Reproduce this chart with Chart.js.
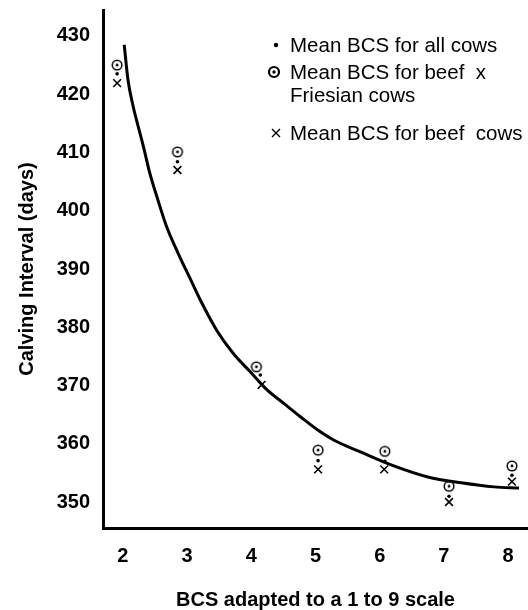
<!DOCTYPE html>
<html>
<head>
<meta charset="utf-8">
<script src="https://cdn.jsdelivr.net/npm/chart.js@4.4.1/dist/chart.umd.min.js"></script>
<style>
  body { margin: 0; background: #fff; }
  #wrap { position: relative; width: 528px; height: 610px; }
  .legRow { position: absolute; left: 266px; font: 20.5px "Liberation Sans", Arial, sans-serif; color: #000; line-height: 23px; white-space: pre; }
  .legRow svg { position: absolute; left: 0; top: 4px; }
  .legRow span { position: absolute; left: 24px; top: 0; }
</style>
</head>
<body>
<div id="wrap">
  <canvas id="chart" width="528" height="610"></canvas>
  <div id="legend"></div>
</div>
<script>
// tick values
const xTickValues = [2, 3, 4, 5, 6, 7, 8]
const yTickValues = [350, 360, 370, 380, 390, 400, 410, 420, 430]

// Mean BCS for all cows (dot)
const allCowsX = [1.91, 2.85, 4.14, 5.04, 6.08, 7.08, 8.06]
const allCowsY = [423.5, 408.4, 371.8, 357.1, 357.0, 351.0, 354.6]
// Mean BCS for beef x Friesian cows (circle with dot)
const beefFriesianX = [1.91, 2.85, 4.08, 5.04, 6.08, 7.08, 8.06]
const beefFriesianY = [425.0, 410.1, 373.2, 358.9, 358.7, 352.7, 356.2]
// Mean BCS for beef cows (cross)
const beefX = [1.91, 2.85, 4.16, 5.04, 6.07, 7.08, 8.06]
const beefY = [421.9, 407.0, 370.1, 355.6, 355.6, 350.0, 353.5]

// fitted curve
const curveX = [2.02, 2.08, 2.16, 2.24, 2.32, 2.42, 2.53, 2.68, 2.86, 3.05, 3.20, 3.46, 3.72, 3.98, 4.25, 4.51, 4.77, 5.03, 5.29, 5.70, 6.22, 6.75, 7.27, 7.78, 8.17]
const curveY = [428.5, 422.4, 417.9, 414.4, 411.0, 406.4, 402.4, 397.3, 392.7, 388.3, 384.8, 379.5, 375.5, 372.4, 369.2, 366.9, 364.6, 362.4, 360.6, 358.6, 356.2, 354.3, 353.3, 352.6, 352.4]

const legendLabels = ['Mean BCS for all cows', 'Mean BCS for beef  x\nFriesian cows', 'Mean BCS for beef  cows']

const toPoints = (xs, ys) => xs.map((x, i) => ({ x: x, y: ys[i] }))

// point style "circle with a dot" drawn on a small canvas
function dotCircle(size, r, lw, dotR) {
    const c = document.createElement('canvas')
    c.width = size; c.height = size
    const g = c.getContext('2d')
    g.strokeStyle = '#000'; g.fillStyle = '#000'; g.lineWidth = lw
    g.beginPath(); g.arc(size / 2, size / 2, r, 0, Math.PI * 2); g.stroke()
    g.beginPath(); g.arc(size / 2, size / 2, dotR, 0, Math.PI * 2); g.fill()
    return c
}

const font = { family: '"Liberation Sans", Arial, sans-serif', size: 20, weight: 'bold' }

const data = {
    datasets: [{
        label: 'Fitted curve',
        data: toPoints(curveX, curveY),
        showLine: true,
        borderColor: '#000',
        borderWidth: 3,
        pointRadius: 0,
        cubicInterpolationMode: 'monotone',
        order: 3
    }, {
        label: legendLabels[0],
        data: toPoints(allCowsX, allCowsY),
        pointStyle: 'circle',
        pointRadius: 1.8,
        backgroundColor: '#000',
        borderColor: '#000',
        borderWidth: 0
    }, {
        label: legendLabels[1],
        data: toPoints(beefFriesianX, beefFriesianY),
        pointStyle: dotCircle(14, 4.8, 1.5, 1.4),
        pointRadius: 5
    }, {
        label: legendLabels[2],
        data: toPoints(beefX, beefY),
        pointStyle: 'crossRot',
        pointRadius: 5.5,
        borderColor: '#000',
        borderWidth: 1.6
    }]
}

const config = {
    type: 'scatter',
    data: data,
    options: {
        responsive: false,
        animation: false,
        layout: { autoPadding: false, padding: { top: 10, left: 0, right: 0, bottom: 0 } },
        plugins: { legend: { display: false }, tooltip: { enabled: false } },
        scales: {
            x: {
                type: 'linear', min: 1.69, max: 8.31,
                afterBuildTicks: (s) => { s.ticks = xTickValues.map(v => ({ value: v })) },
                afterFit: (s) => { s.height = 82; s.paddingLeft = 0; s.paddingRight = 0 },
                grid: { display: false, drawTicks: false },
                border: { color: '#000', width: 3 },
                ticks: { color: '#000', font: font, padding: 16, maxRotation: 0 },
                title: { display: true, text: 'BCS adapted to a 1 to 9 scale', color: '#000', font: font, padding: { top: 0, bottom: -2 } }
            },
            y: {
                type: 'linear', min: 345.54, max: 434.46,
                afterBuildTicks: (s) => { s.ticks = yTickValues.map(v => ({ value: v })) },
                afterFit: (s) => { s.width = 103; s.paddingTop = 0; s.paddingBottom = 0 },
                grid: { display: false, drawTicks: false },
                border: { color: '#000', width: 3 },
                ticks: { color: '#000', font: font, padding: 13 },
                title: { display: true, text: 'Calving Interval (days)', color: '#000', font: font, padding: { top: 15, bottom: 0 } }
            }
        }
    }
}

const myChart = new Chart(document.getElementById('chart'), config)

// legend in html, symbols as small svg
const legendSymbols = [
    '<svg width="20" height="16"><circle cx="10" cy="8" r="2.2" fill="#000"/></svg>',
    '<svg width="20" height="16"><circle cx="8" cy="8" r="5" fill="none" stroke="#000" stroke-width="2.2"/><circle cx="8" cy="8" r="1.7" fill="#000"/></svg>',
    '<svg width="20" height="16"><path d="M6 4 L14 12 M14 4 L6 12" stroke="#000" stroke-width="1.4"/></svg>'
]
const legendTops = [33, 60, 121]
let legendHtml = ''
legendLabels.forEach((lab, i) => {
    legendHtml += `<div class="legRow" style="top:${legendTops[i]}px">${legendSymbols[i]}<span>${lab}</span></div>`
})
document.getElementById('legend').innerHTML = legendHtml
</script>
</body>
</html>
